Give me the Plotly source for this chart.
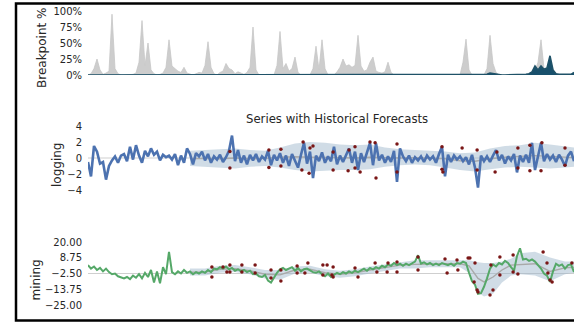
import plotly.graph_objects as go

# ---------------- data ----------------
# breakpoint probability (%) per time step
bp_gray = [0, 2, 10, 25, 8, 1, 3, 6, 95, 10,
           2, 0, 0, 0, 0, 1, 3, 20, 85, 15,
           50, 8, 2, 0, 1, 3, 12, 55, 14, 10,
           6, 4, 12, 3, 1, 0, 2, 4, 3, 15,
           52, 12, 2, 0, 4, 6, 18, 10, 8, 2,
           5, 3, 1, 4, 12, 75, 8, 0, 0, 0,
           0, 0, 0, 15, 68, 10, 18, 6, 10, 28,
           4, 0, 0, 0, 0, 10, 45, 8, 55, 10,
           0, 0, 0, 5, 12, 25, 14, 16, 12, 15,
           62, 14, 6, 8, 20, 28, 6, 4, 3, 5,
           20, 4, 0, 0, 0, 0, 0, 0, 0, 0,
           0, 0, 0, 0, 0, 0, 0, 0, 0, 0,
           0, 0, 0, 0, 0, 20, 56, 8, 0, 0,
           0, 0, 0, 10, 62, 18, 4, 0, 0, 0,
           0, 0, 0, 0, 0, 0, 0, 0, 0, 6,
           20, 55, 10, 6, 4, 2, 0, 0, 0, 0,
           0, 0, 0]
bp_dark = [0] * 130 + \
          [0, 0, 0, 1, 3, 2, 1, 0, 0, 0] + \
          [0, 0, 0, 0, 0, 0, 1, 2, 5, 14] + \
          [8, 14, 9, 11, 30, 8, 2, 1, 1, 1] + \
          [0.5, 1, 4]

logging = [-0.5, -2.3, 1.5, 0.8, -0.7, -0.5, -2.7, -1.0, -0.3, 0.2,
           -0.6, 0.3, 0.5, -0.4, 1.4, -0.2, 1.6, 0.3, -0.6, 0.9,
           0.2, 1.2, 0.4, 0.8, -0.3, 0.4, 0.1, 0.3, -0.2, 0.5,
           -0.9, 0.3, -0.6, 1.2, 0.5, -0.8, 0.6, 0.2, 0.8, -0.3,
           0.5, -0.6, 0.2, -0.2, 0.4, -0.5, 0.1, 0.9, 2.8, -0.4,
           1.0, -0.6, 0.3, -0.8, 0.4, -0.3, 0.5, -0.5, 0.2, -0.2,
           0.9, -0.9, 0.4, -0.3, 0.6, -0.6, 0.3, -1.0, 0.5, -0.3,
           -1.2, 0.4, 1.9, -0.7, 0.8, -2.5, 0.3, -0.4, 0.7, -0.6,
           0.2, -0.4, 1.4, -0.8, 0.3, -0.5, 0.4, 1.2, -0.6, 0.8,
           -1.5, 0.6, -0.5, 0.8, 1.9, -0.9, 1.8, -0.3, 0.4, -0.6,
           0.2, -0.5, 0.9, -3.0, 1.2, 0.2, -0.4, 0.3, -0.6, 0.1,
           -0.3, 0.2, -0.5, 0.3, -0.2, 0.2, -0.6, 0.5, 1.4, -2.3,
           0.4, -0.5, 0.3, -0.2, 0.2, -0.4, 0.1, -0.8, 0.4, -1.2,
           -3.7, 0.3, -0.4, 0.2, -0.5, 0.3, 1.0, -0.3, 0.4, -0.7,
           0.2, -0.3, 0.5, -1.8, 0.3, -0.5, 0.4, -0.6, 1.9, -1.5,
           0.3, 1.9, -0.4, 0.5, -0.2, 0.3, -0.5, 0.4, -0.2, -1.0,
           0.3, 0.8, -0.4]

mining = [3.5, 1.0, 2.5, 0.0, 1.5, -1.0, 1.0, -1.5, -3.0, -2.5,
          -4.5, -5.5, -6.0, -5.0, -6.5, -4.0, -5.5, -3.0, -6.0, -2.0,
          -5.0, 0.0, -9.0, -1.0, -9.5, 2.0, -3.0, 13.0, -1.5, -3.0,
          -1.0, -2.5, 0.0, -2.0, -1.0, -3.0, -1.5, -2.5, -1.0, -2.0,
          0.0, -1.5, 1.0, 0.5, 2.0, 1.0, 2.5, 0.5, 1.5, -0.5,
          0.5, -1.0, 0.0, -1.5, -0.5, -3.0, -2.5, -4.5, -5.0, -3.5,
          -7.5, -9.0, -5.0, -2.0, 0.5, 1.5, 0.0, 1.0, 2.0, -0.5,
          1.5, -1.0, 0.5, 1.0, -0.5, -1.5, -2.0, -1.0, -3.0, -4.5,
          -2.5, -5.0, -3.5, -2.0, -3.0, -1.5, -2.5, -1.0, -2.0, -0.5,
          -1.5, 0.0, 1.0, -0.5, 1.5, 0.5, 2.0, 1.0, 3.0, 2.0,
          4.0, 3.0, 5.0, 3.5, 4.5, 3.0, 4.5, 3.5, 5.0, 6.0,
          10.5, 4.5, 5.5, 4.0, 5.0, 3.5, 4.5, 3.5, 5.0, 4.0,
          3.5, 4.5, 3.0, 5.0, 4.5, 6.0, 5.0, -2.0, -8.0, -10.5,
          -17.0, -16.5, -12.0, -6.0, 1.0, 4.0, 2.5, 5.0, 4.0, 6.5,
          5.0, 2.0, -0.5, 10.0, 15.5, 7.5, 8.0, 6.5, 7.5, 6.0,
          3.5, 1.0, -2.5, -4.0, -8.5, -1.0, 4.5, 3.0, 4.0, 1.0,
          3.5, 4.0, -1.5]

# historical forecast bands
log_band_t = [34, 39, 44, 49, 54, 59, 64, 69, 74, 79, 84, 89, 94, 99,
              104, 109, 114, 119, 124, 129, 134, 139, 144, 149, 154, 159, 162]
log_upper = [0.9, 1.0, 1.1, 1.2, 1.0, 0.9, 1.3, 1.8, 2.0, 1.9, 1.7, 1.6, 1.7, 1.3,
             1.1, 1.0, 0.9, 0.8, 0.6, 0.7, 1.2, 1.5, 1.6, 1.9, 1.7, 1.4, 1.3]
log_lower = [-1.0, -1.1, -1.2, -1.3, -1.1, -1.0, -1.2, -1.5, -1.7, -1.6, -1.5, -1.5, -1.4, -1.1,
             -0.9, -0.8, -0.9, -1.2, -1.5, -1.7, -1.4, -1.2, -1.1, -1.2, -1.3, -1.2, -1.1]
log_mean = [-0.1, -0.05, -0.1, 0.0, -0.1, -0.05, 0.1, 0.15, 0.1, 0.1, 0.05, 0.0, 0.1, 0.05,
            0.0, 0.05, 0.0, -0.1, -0.35, -0.4, -0.1, 0.1, 0.2, 0.3, 0.2, 0.1, 0.05]

min_band_t = [34, 39, 44, 49, 54, 59, 64, 69, 74, 79, 84, 89, 94, 99, 104, 109, 114,
              119, 124, 127, 130, 132, 135, 138, 141, 144, 149, 154, 159, 162]
min_mean = [-1.5, -1.5, 0.5, 1.0, -0.5, -3.0, -3.5, 0.0, 0.5, -2.0, -3.0, -2.0, 0.0, 1.5, 3.5,
            4.0, 4.5, 4.5, 4.5, 3.0, -6.0, -8.5, -5.0, 0.0, 3.5, 4.0, 4.5, -1.0, 1.5, 2.0]
min_upper = [1.0, 1.0, 3.0, 3.5, 2.0, 0.0, 0.0, 2.5, 3.0, 0.5, -0.5, 0.5, 2.5, 4.0, 6.0,
             7.0, 7.0, 7.0, 7.0, 7.0, 5.5, 5.0, 5.0, 6.0, 8.0, 12.0, 13.0, 9.0, 6.0, 6.0]
min_lower = [-4.0, -4.0, -2.0, -1.5, -3.0, -6.0, -7.0, -2.5, -2.0, -4.5, -5.5, -4.5, -2.5, -1.0, 1.0,
             1.0, 2.0, 2.0, 2.0, -2.0, -16.0, -19.0, -17.0, -9.0, -4.0, -3.0, -4.0, -8.0, -3.0, -2.0]

# anomaly points (time step, value)
log_dot_t = [47.3, 47.3, 60.3, 60.3, 64.3, 64.3, 71.7, 71.3, 74, 75, 73.7, 81.7, 81.7, 86.7, 87,
             89, 89, 90.7, 94, 95.7, 96, 103, 103, 118, 118, 118.3, 124.7, 129.7, 129.7, 135.7,
             136.3, 143.3, 143.3, 147.3, 147.3, 151, 151.3, 159, 159]
log_dot_v = [0.8, -1.25, 1.0, -1.2, 1.1, -1.0, 2.0, -1.5, 1.25, 1.5, -1.9, -1.5, 0.75, -1.6, 1.0,
             1.4, -1.25, -1.75, 2.0, 1.9, -2.5, 1.75, -1.75, 1.4, -1.4, -1.75, 1.25, 1.0, -1.5, -1.75,
             0.75, 1.25, -1.25, 1.6, -1.6, -1.6, 1.9, 1.25, -0.9]

min_dot_t = [41.3, 41.3, 45, 46.3, 47.3, 47.3, 51.3, 51.3, 55.7, 55.7, 61, 61, 64.3, 64.3, 69.7,
             69.7, 72.3, 73.3, 78.3, 79.7, 78.3, 81.3, 81.7, 81.7, 89, 90, 95.7, 96.3, 100, 99.7,
             103, 103, 110, 110, 119, 119.7, 123, 123.3, 126.7, 127.3, 129, 128.7, 129.7, 130, 134,
             135, 134.3, 137.3, 137.3, 141.7, 141.7, 143.3, 151.7, 153, 153.3, 154, 154.7, 161.3]
min_dot_v = [2.1, -5.0, 2.1, -1.4, 3.6, -1.4, 3.6, -1.4, 3.6, -2.1, 0.0, -5.7, 0.0, -7.9, 2.9,
             -2.1, -2.1, 5.0, 3.6, 3.6, -3.6, -3.6, 2.1, -5.0, 1.4, -5.0, 5.0, -1.4, 5.0, -1.4,
             5.7, -1.4, 9.3, 0.0, 7.9, -2.1, 7.1, 0.0, 8.6, 8.6, 5.0, -8.6, -14.3, -15.7, -17.9,
             -14.3, 3.6, 9.3, -3.6, 10.7, -1.4, -2.9, 12.9, 5.0, -2.1, -7.1, -8.6, 5.0]

bp_ticks = [0, 25, 50, 75, 100]
bp_ticktext = ["0%", "25%", "50%", "75%", "100%"]
log_ticks = [-4, -2, 0, 2, 4]
log_ticktext = ["\u22124", "\u22122", "0", "2", "4"]
min_ticks = [-25, -13.75, -2.5, 8.75, 20]
min_ticktext = ["\u221225.00", "\u221213.75", "\u22122.50", "8.75", "20.00"]

# ---------------- figure ----------------
W, H = 574, 323
FONT = "DejaVu Sans"
TXT = "#262626"
BAND = "rgba(150,178,200,0.45)"
DOT = "#7a1616"

t_bp = list(range(len(bp_gray)))
t_bpd = list(range(len(bp_dark)))
t_log = list(range(len(logging)))
t_min = list(range(len(mining)))

fig = go.Figure()

# top panel
fig.add_trace(go.Scatter(x=t_bp, y=bp_gray, mode="lines", fill="tozeroy",
                         line=dict(color="#c6c6c6", width=0.8), fillcolor="#cdcdcd",
                         xaxis="x", yaxis="y", hoverinfo="skip"))
fig.add_trace(go.Scatter(x=t_bpd, y=bp_dark, mode="lines", fill="tozeroy",
                         line=dict(color="#1f5268", width=1.6), fillcolor="#18506c",
                         xaxis="x", yaxis="y", hoverinfo="skip"))

# middle panel
fig.add_trace(go.Scatter(x=log_band_t, y=log_upper, mode="lines", line=dict(width=0),
                         xaxis="x2", yaxis="y2", hoverinfo="skip"))
fig.add_trace(go.Scatter(x=log_band_t, y=log_lower, mode="lines", line=dict(width=0),
                         fill="tonexty", fillcolor=BAND, xaxis="x2", yaxis="y2", hoverinfo="skip"))
fig.add_trace(go.Scatter(x=log_band_t, y=log_mean, mode="lines",
                         line=dict(color="#a9a9a9", width=1.4), xaxis="x2", yaxis="y2"))
fig.add_trace(go.Scatter(x=t_log, y=logging, mode="lines",
                         line=dict(color="#4c72b0", width=2.6), xaxis="x2", yaxis="y2"))
fig.add_trace(go.Scatter(x=log_dot_t, y=log_dot_v, mode="markers",
                         marker=dict(color=DOT, size=3.5), xaxis="x2", yaxis="y2"))

# bottom panel
fig.add_trace(go.Scatter(x=min_band_t, y=min_upper, mode="lines", line=dict(width=0),
                         xaxis="x3", yaxis="y3", hoverinfo="skip"))
fig.add_trace(go.Scatter(x=min_band_t, y=min_lower, mode="lines", line=dict(width=0),
                         fill="tonexty", fillcolor=BAND, xaxis="x3", yaxis="y3", hoverinfo="skip"))
fig.add_trace(go.Scatter(x=min_band_t, y=min_mean, mode="lines",
                         line=dict(color="#a9a9a9", width=1.4), xaxis="x3", yaxis="y3"))
fig.add_trace(go.Scatter(x=t_min, y=mining, mode="lines",
                         line=dict(color="#55a868", width=2.0), xaxis="x3", yaxis="y3"))
fig.add_trace(go.Scatter(x=min_dot_t, y=min_dot_v, mode="markers",
                         marker=dict(color=DOT, size=3.5), xaxis="x3", yaxis="y3"))

xdom = [88 / W, 1.0]
xr = [0, len(logging) - 1]


def py(px):
    return 1 - px / H


xcommon = dict(domain=xdom, range=xr, visible=False, showgrid=False, zeroline=False,
               automargin=False)
ycommon = dict(showgrid=False, zeroline=False, showline=False, ticks="", automargin=False,
               tickfont=dict(family=FONT, size=10, color=TXT), ticklabelstandoff=5)

fig.update_layout(
    width=W, height=H,
    margin=dict(l=0, r=0, t=0, b=0, pad=0, autoexpand=False),
    paper_bgcolor="white", plot_bgcolor="white",
    showlegend=False,
    hovermode=False,
    font=dict(family=FONT, color=TXT),
    xaxis=dict(anchor="y", **xcommon),
    xaxis2=dict(anchor="y2", **xcommon),
    xaxis3=dict(anchor="y3", **xcommon),
    yaxis=dict(domain=[py(75), py(11)], range=[0, 100], tickvals=bp_ticks,
               ticktext=bp_ticktext, anchor="x", **ycommon),
    yaxis2=dict(domain=[py(190), py(126)], range=[-4, 4], tickvals=log_ticks,
                ticktext=log_ticktext, anchor="x2", **ycommon),
    yaxis3=dict(domain=[py(305), py(242)], range=[-25, 20], tickvals=min_ticks,
                ticktext=min_ticktext, anchor="x3", **ycommon),
    shapes=[
        dict(type="line", xref="x2", yref="y2", x0=0, x1=xr[1], y0=0, y1=0,
             line=dict(color="#cfcfcf", width=1), layer="below"),
        dict(type="line", xref="x3", yref="y3", x0=0, x1=xr[1], y0=-2.5, y1=-2.5,
             line=dict(color="#cfcfcf", width=1), layer="below"),
        dict(type="rect", xref="paper", yref="paper", x0=16 / W, x1=1.02,
             y0=py(320.5), y1=py(3.5), line=dict(color="black", width=2.5)),
    ],
    annotations=[
        dict(text="Breakpoint %", x=42 / W, y=py(48), xref="paper", yref="paper",
             textangle=-90, showarrow=False, xanchor="center", yanchor="middle",
             font=dict(family=FONT, size=12, color=TXT)),
        dict(text="logging", x=57 / W, y=py(165), xref="paper", yref="paper",
             textangle=-90, showarrow=False, xanchor="center", yanchor="middle",
             font=dict(family=FONT, size=12, color=TXT)),
        dict(text="mining", x=35.5 / W, y=py(280), xref="paper", yref="paper",
             textangle=-90, showarrow=False, xanchor="center", yanchor="middle",
             font=dict(family=FONT, size=12, color=TXT)),
        dict(text="Series with Historical Forecasts", x=337 / W, y=py(119),
             xref="paper", yref="paper", showarrow=False, xanchor="center",
             yanchor="middle", font=dict(family=FONT, size=11.7, color=TXT)),
    ],
)

fig.write_html(
    "out.html",
    config={"displayModeBar": False, "staticPlot": True},
    post_script="document.documentElement.style.margin='0';"
                "document.documentElement.style.overflow='hidden';"
                "document.body.style.margin='0';"
                "document.body.style.padding='0';"
                "document.body.style.overflow='hidden';"
                "var d=document.querySelector('.plotly-graph-div');"
                "d.style.position='fixed';d.style.left='0px';d.style.top='0px';",
)
